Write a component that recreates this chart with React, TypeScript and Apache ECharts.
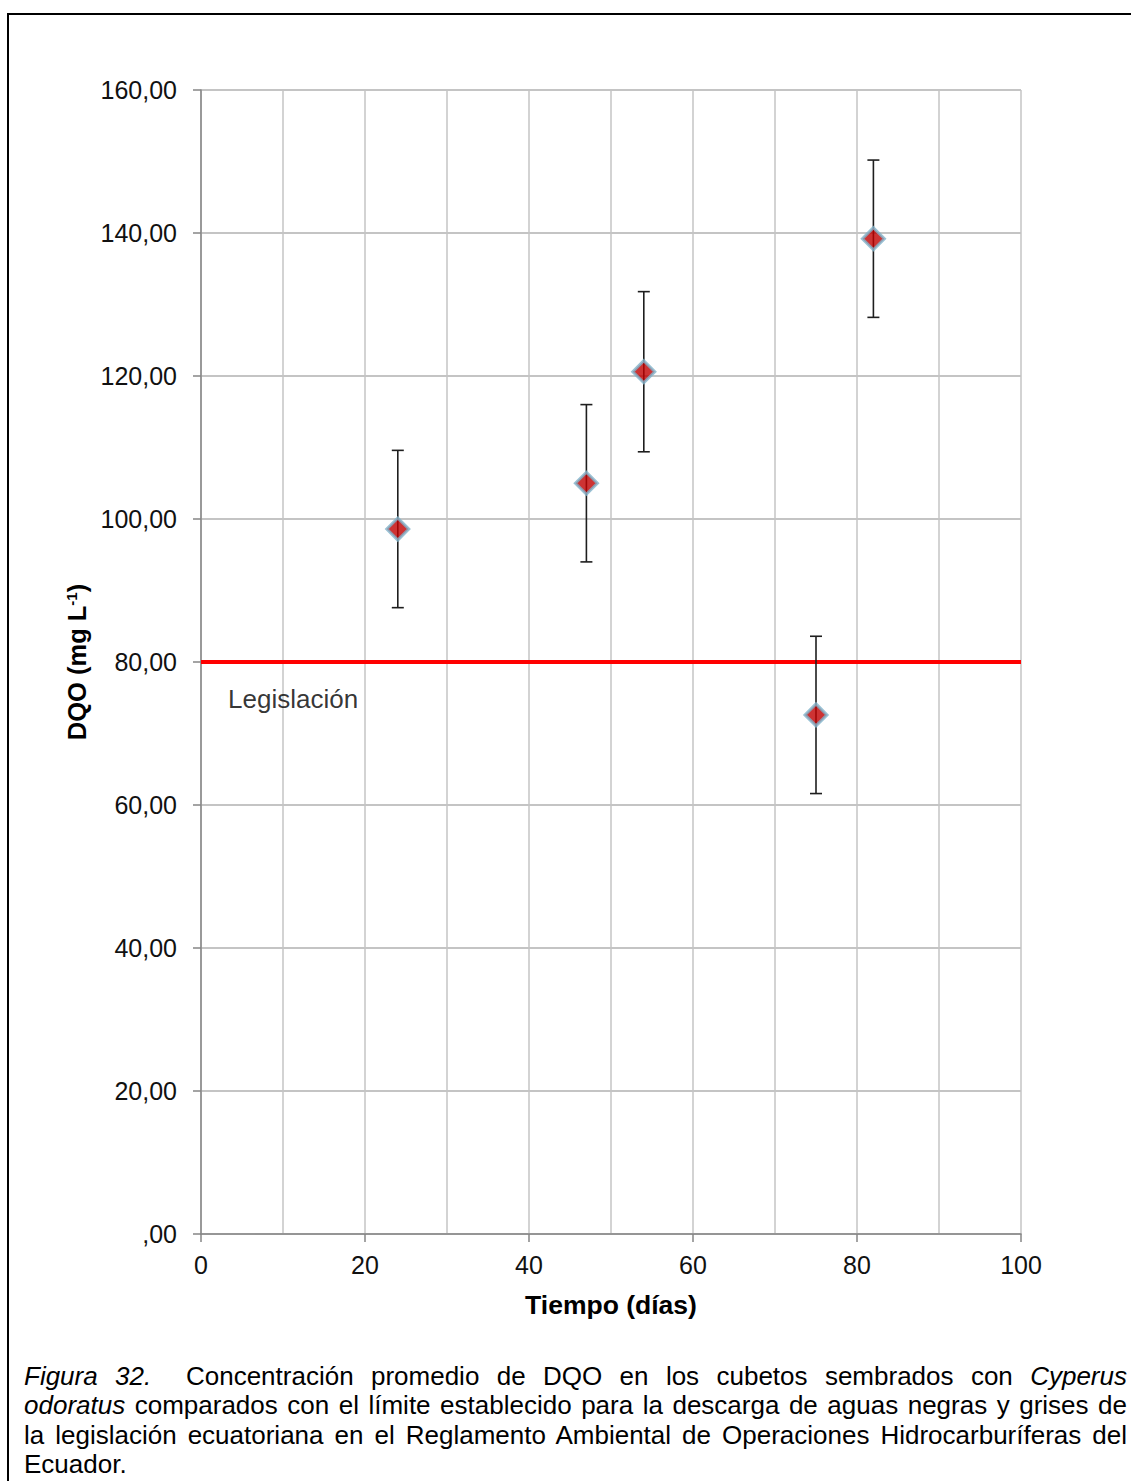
import React, { useEffect, useRef } from "react";
import * as echarts from "echarts";

const days = [24, 47, 54, 75, 82];
const dqoMean = [98.6, 105.0, 120.6, 72.6, 139.2];
const dqoError = [11, 11, 11.2, 11, 11];
const limitValue = 80;
const limitLabel = "Legislación";
const xTicks = [0, 20, 40, 60, 80, 100];
const yTicks = [0, 20, 40, 60, 80, 100, 120, 140, 160];

const FONT = "Liberation Sans, Arial, sans-serif";

const captionLines = [
  [
    { t: "Figura 32.", i: true },
    { t: "\u00a0 Concentración promedio de DQO en los cubetos sembrados con ", i: false },
    { t: "Cyperus", i: true },
  ],
  [
    { t: "odoratus", i: true },
    { t: " comparados con el límite establecido para la descarga de aguas negras y grises de", i: false },
  ],
  [
    {
      t: "la legislación ecuatoriana en el Reglamento Ambiental de Operaciones Hidrocarburíferas del",
      i: false,
    },
  ],
  [{ t: "Ecuador.", i: false }],
];

export default function App() {
  const ref = useRef<HTMLDivElement>(null);

  useEffect(() => {
    document.body.style.margin = "0";
    document.body.style.overflow = "hidden";
    const chart = echarts.init(ref.current!, undefined, { renderer: "svg" });
    const errData = days.map((d, i) => [d, dqoMean[i], dqoMean[i] - dqoError[i], dqoMean[i] + dqoError[i]]);
    chart.setOption({
      animation: false,
      grid: { left: 201, top: 90, width: 820, height: 1144, containLabel: false },
      xAxis: {
        type: "value",
        min: xTicks[0],
        max: xTicks[xTicks.length - 1],
        interval: 20,
        name: "Tiempo (días)",
        nameLocation: "middle",
        nameGap: 57,
        nameTextStyle: { fontSize: 26.5, fontWeight: "bold", color: "#000", fontFamily: FONT },
        axisLine: { show: true, lineStyle: { color: "#868686", width: 1.5 } },
        axisTick: { show: true, length: 8, lineStyle: { color: "#868686", width: 1.5 } },
        axisLabel: { fontSize: 25, color: "#111", margin: 18, fontFamily: FONT },
        splitLine: { show: true, lineStyle: { color: "#c4c4c4", width: 1.5 } },
        minorTick: { show: false, splitNumber: 2 },
        minorSplitLine: { show: true, lineStyle: { color: "#c4c4c4", width: 1.5 } },
      },
      yAxis: {
        type: "value",
        min: yTicks[0],
        max: yTicks[yTicks.length - 1],
        interval: 20,
        name: "{a|DQO (mg L}{b|-1}{a|)}",
        nameLocation: "middle",
        nameGap: 110,
        nameTextStyle: {
          fontSize: 25,
          fontWeight: "bold",
          color: "#000",
          fontFamily: FONT,
          rich: {
            a: { fontSize: 25.5, fontWeight: "bold", color: "#000", fontFamily: FONT, lineHeight: 26 },
            b: { fontSize: 15, fontWeight: "bold", color: "#000", fontFamily: FONT, verticalAlign: "top", lineHeight: 26 },
          },
        },
        axisLine: { show: true, lineStyle: { color: "#868686", width: 1.5 } },
        axisTick: { show: true, length: 8, lineStyle: { color: "#868686", width: 1.5 } },
        axisLabel: {
          fontSize: 25,
          color: "#111",
          margin: 24,
          fontFamily: FONT,
          formatter: (v: number) => (v === 0 ? ",00" : v.toFixed(2).replace(".", ",")),
        },
        splitLine: { show: true, lineStyle: { color: "#b0b0b0", width: 1.5 } },
      },
      series: [
        {
          type: "line",
          data: [
            [xTicks[0], limitValue],
            [xTicks[xTicks.length - 1], limitValue],
          ],
          symbol: "none",
          lineStyle: { color: "#ff0000", width: 4 },
          z: 3,
        },
        {
          type: "scatter",
          data: [[3.3, 74.8]],
          symbolSize: 0,
          itemStyle: { color: "#000" },
          label: {
            show: true,
            position: "right",
            distance: 0,
            formatter: limitLabel,
            fontSize: 26,
            color: "#000",
            fontFamily: FONT,
          },
          silent: true,
        },
        {
          type: "custom",
          data: errData,
          z: 4,
          renderItem: (params: any, api: any) => {
            const x = api.value(0);
            const lo = api.value(2);
            const hi = api.value(3);
            const top = api.coord([x, hi]);
            const bot = api.coord([x, lo]);
            const cap = 6;
            const style = { stroke: "#1e1e1e", lineWidth: 1.6 };
            return {
              type: "group",
              children: [
                { type: "line", shape: { x1: top[0], y1: top[1], x2: bot[0], y2: bot[1] }, style },
                { type: "line", shape: { x1: top[0] - cap, y1: top[1], x2: top[0] + cap, y2: top[1] }, style },
                { type: "line", shape: { x1: bot[0] - cap, y1: bot[1], x2: bot[0] + cap, y2: bot[1] }, style },
              ],
            };
          },
        },
        {
          type: "scatter",
          data: days.map((d, i) => [d, dqoMean[i]]),
          symbol: "diamond",
          symbolSize: 22,
          itemStyle: { color: "#c00000", borderColor: "#7fb2c9", borderWidth: 3 },
          z: 5,
        },
      ],
    });
    return () => chart.dispose();
  }, []);

  return (
    <div style={{ position: "relative", width: 1131, height: 1481, overflow: "hidden", background: "#fff" }}>
      <div
        style={{
          position: "absolute",
          left: 7,
          top: 13,
          width: 1200,
          height: 1600,
          border: "2px solid #000",
          boxSizing: "border-box",
        }}
      />
      <div ref={ref} style={{ position: "absolute", left: 0, top: 0, width: 1131, height: 1481 }} />
      <div
        style={{
          position: "absolute",
          left: 24,
          top: 1362,
          width: 1103,
          fontFamily: "Liberation Sans, Arial, sans-serif",
          fontSize: 26,
          lineHeight: "29.3px",
          color: "#000",
        }}
      >
        {captionLines.map((line, li) => (
          <div
            key={li}
            style={{
              whiteSpace: "nowrap",
              textAlign: li < captionLines.length - 1 ? "justify" : "left",
              textAlignLast: li < captionLines.length - 1 ? "justify" : "left",
            }}
          >
            {line.map((seg, si) => (
              <span key={si} style={{ fontStyle: seg.i ? "italic" : "normal" }}>
                {seg.t}
              </span>
            ))}
          </div>
        ))}
      </div>
    </div>
  );
}
